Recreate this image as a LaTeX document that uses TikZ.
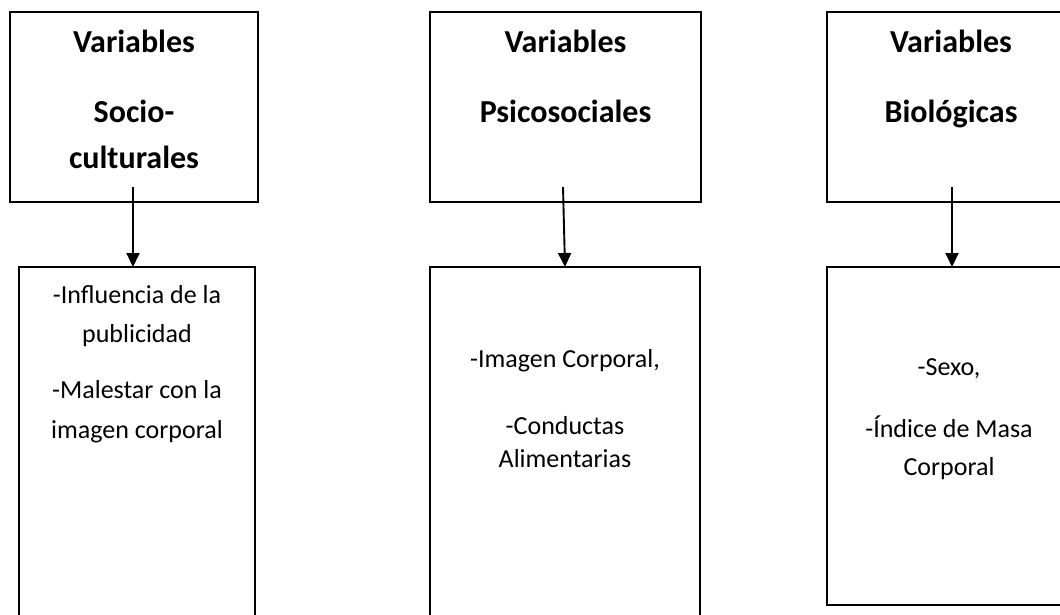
\documentclass[tikz,border=0pt]{standalone}
\usepackage{fontspec}
\setmainfont{Carlito}
\usepackage{tikz}
\usetikzlibrary{arrows.meta}

\tikzset{
  caja/.style={draw, line width=1.7pt, rectangle, inner sep=0pt, outer sep=0pt},
  titulo/.style={anchor=base, inner sep=0pt, font=\fontsize{32}{38}\selectfont\bfseries},
  texto/.style={anchor=base, inner sep=0pt, font=\fontsize{26}{31}\selectfont},
  flecha/.style={-{Triangle[width=13pt,length=14pt]}, line width=1.9pt}
}

\begin{document}
\begin{tikzpicture}[x=1pt, y=-1pt]
    % Frame
    \useasboundingbox (0,0) rectangle (1060,615);
    \clip (0,0) rectangle (1060,615);

    % Upper boxes
    \node[caja, minimum width=248pt, minimum height=190pt] (t1) at (134,107) {};
    \node[caja, minimum width=271pt, minimum height=190pt] (t2) at (565.5,107) {};
    \node[caja, minimum width=248pt, minimum height=190pt] (t3) at (951,107) {};

    % Lower boxes
    \node[caja, minimum width=236pt, minimum height=373pt] (b1) at (137,453.5) {};
    \node[caja, minimum width=270pt, minimum height=373pt] (b2) at (565,453.5) {};
    \node[caja, minimum width=243pt, minimum height=338pt] (b3) at (948.5,436) {};

    % Titles
    \node[titulo] (t1a) at (134,53) {Variables};
    \node[titulo] (t1b) at (134,123) {Socio-};
    \node[titulo] (t1c) at (134,168) {culturales};
    \node[titulo] (t2a) at (565.5,53) {Variables};
    \node[titulo] (t2b) at (565.5,123) {Psicosociales};
    \node[titulo] (t3a) at (951,53) {Variables};
    \node[titulo] (t3b) at (951,123) {Biológicas};

    % Contents
    \node[texto] (b1a) at (137,303) {-Influencia de la};
    \node[texto] (b1b) at (137,342) {publicidad};
    \node[texto] (b1c) at (137,398) {-Malestar con la};
    \node[texto] (b1d) at (137,438) {imagen corporal};
    \node[texto] (b2a) at (565,367) {-Imagen Corporal,};
    \node[texto] (b2b) at (565,434) {-Conductas};
    \node[texto] (b2c) at (565,467) {Alimentarias};
    \node[texto] (b3a) at (949,375) {-Sexo,};
    \node[texto] (b3b) at (949,437) {-Índice de Masa};
    \node[texto] (b3c) at (949,475) {Corporal};

    % Arrows
    \coordinate (s1) at (133,187);
    \coordinate (s2) at (563,187);
    \coordinate (s3) at (952,187);
    \draw[flecha] (s1) -- (s1 |- b1.north);
    \draw[flecha] (s2) -- (b2.north);
    \draw[flecha] (s3) -- (s3 |- b3.north);
\end{tikzpicture}
\end{document}
